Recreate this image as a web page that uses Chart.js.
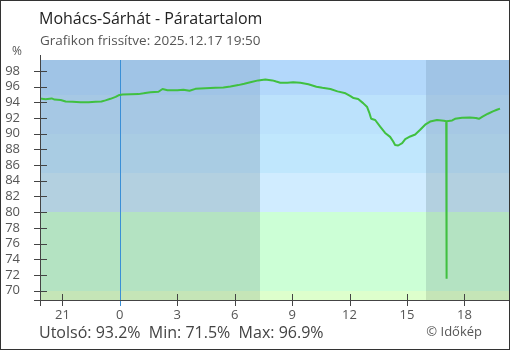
<!DOCTYPE html>
<html>
<head>
<meta charset="utf-8">
<script src="https://cdn.jsdelivr.net/npm/chart.js@4"></script>
<style>
  html, body { margin: 0; padding: 0; background: #fff; }
  #wrap { width: 510px; height: 350px; position: relative; }
</style>
</head>
<body>
<div id="wrap"><canvas id="humidityChart" width="510" height="350"></canvas></div>
<script>
// Órák az előző nap éjfélétől (negatív = előző nap)
const hours = [-4.17, -3.88, -3.56, -3.41, -3.09, -2.83, -2.47, -2.05, -1.63, -1.27, -0.96, -0.75, -0.49, -0.22, -0.07,
    0.14, 0.98, 1.24, 1.60, 2.02, 2.23, 2.49, 3.01, 3.32, 3.64, 3.95, 4.47, 4.99, 5.41, 5.78, 6.19, 6.50, 6.87,
    7.23, 7.60, 7.97, 8.17, 8.38, 8.75, 9.06, 9.43, 9.85, 10.27, 10.58, 11.00, 11.37, 11.79, 12.05, 12.21, 12.45,
    12.71, 12.92, 13.03, 13.13, 13.34, 13.60, 13.86, 14.12, 14.28, 14.38, 14.54, 14.75, 14.91, 15.17, 15.43, 15.69,
    15.95, 16.21, 16.57, 16.93, 17.05, 17.06, 17.07, 17.08, 17.36, 17.51, 17.88, 18.29, 18.60, 18.76, 18.97, 19.23,
    19.49, 19.70, 19.86];
const humidity = [94.5, 94.4, 94.5, 94.35, 94.3, 94.1, 94.08, 94.0, 94.0, 94.08, 94.1, 94.25, 94.45, 94.7, 94.9,
    95.0, 95.05, 95.15, 95.3, 95.35, 95.7, 95.55, 95.55, 95.62, 95.48, 95.72, 95.8, 95.87, 95.88, 96.03, 96.2, 96.38, 96.6,
    96.8, 96.9, 96.8, 96.65, 96.5, 96.5, 96.55, 96.5, 96.3, 96.0, 95.85, 95.7, 95.4, 95.15, 94.8, 94.55, 94.43,
    93.9, 93.4, 92.7, 91.9, 91.75, 90.9, 90.1, 89.6, 89.0, 88.55, 88.5, 88.8, 89.3, 89.65, 89.9, 90.5,
    91.15, 91.55, 91.75, 91.65, 91.6, 81.4, 71.5, 91.6, 91.7, 91.9, 92.05, 92.08, 92.0, 91.9, 92.2, 92.55,
    92.85, 93.05, 93.2];

const xMin = -4.17, xMax = 20.33;
const yMin = 68.8, yMax = 99.4;
const xTicks = [-3, 0, 3, 6, 9, 12, 15, 18];
const xTickLabels = ['21', '0', '3', '6', '9', '12', '15', '18'];
const yTicks = [70, 72, 74, 76, 78, 80, 82, 84, 86, 88, 90, 92, 94, 96, 98];

// Páratartalom sávok (felső / alsó határ) és színeik nappal / éjjel
const bandTops = [100, 95, 90, 85, 80, 70];
const bandBottoms = [95, 90, 85, 80, 70, 0];
const dayColors = ['#b3d8fb', '#bce2fc', '#c0e7fd', '#d0ecff', '#ccffd6', '#ddffcc'];
const nightColors = ['#a0c4e6', '#a6c8e4', '#a9cce3', '#b3d0e0', '#b4e3c2', '#c5e5b7'];
const sunrise = 7.33, sunset = 15.98;

const fontFamily = "'Open Sans', sans-serif";
Chart.defaults.font.family = fontFamily;

const last = humidity[humidity.length - 1];
const minVal = Math.min(...humidity);
const maxVal = Math.max(...humidity);

const backdrop = {
    id: 'backdrop',
    beforeDatasetsDraw(chart) {
        const { ctx, chartArea: a, scales: { x, y } } = chart;
        const spans = [[xMin, sunrise, true], [sunrise, sunset, false], [sunset, xMax, true]];
        ctx.save();
        ctx.beginPath();
        ctx.rect(a.left, a.top, a.right - a.left, a.bottom - a.top);
        ctx.clip();
        bandTops.forEach((top, i) => {
            const y1 = Math.round(y.getPixelForValue(top));
            const y2 = Math.round(y.getPixelForValue(bandBottoms[i]));
            spans.forEach(([from, to, night]) => {
                const x1 = Math.round(x.getPixelForValue(from));
                const x2 = Math.round(x.getPixelForValue(to));
                ctx.fillStyle = night ? nightColors[i] : dayColors[i];
                ctx.fillRect(x1, y1, x2 - x1, y2 - y1);
            });
        });
        ctx.restore();

        // éjfél jelölése
        const mx = Math.round(x.getPixelForValue(0)) + 0.5;
        ctx.save();
        ctx.strokeStyle = '#3a8fd6';
        ctx.lineWidth = 1;
        ctx.beginPath();
        ctx.moveTo(mx, a.top);
        ctx.lineTo(mx, a.bottom + 6);
        ctx.stroke();
        ctx.restore();
    },
    afterDraw(chart) {
        const { ctx, chartArea: a, scales: { x, y } } = chart;
        ctx.save();
        ctx.strokeStyle = '#444';
        ctx.lineWidth = 1;
        const ax = Math.floor(a.left) + 0.5;
        const ay = Math.floor(a.bottom) + 0.5;
        ctx.beginPath();
        // tengelyek
        ctx.moveTo(ax, a.top - 5);
        ctx.lineTo(ax, a.bottom + 6);
        ctx.moveTo(a.left - 6, ay);
        ctx.lineTo(a.right, ay);
        yTicks.forEach(v => {
            const py = Math.round(y.getPixelForValue(v)) + 0.5;
            ctx.moveTo(a.left - 6, py);
            ctx.lineTo(a.left + 7, py);
        });
        xTicks.forEach(v => {
            if (v === 0) return;
            const px = Math.round(x.getPixelForValue(v)) + 0.5;
            ctx.moveTo(px, a.bottom - 6);
            ctx.lineTo(px, a.bottom + 6);
        });
        ctx.stroke();

        // keret
        ctx.strokeStyle = '#333';
        ctx.strokeRect(0.5, 0.5, chart.width - 1, chart.height - 1);

        // feliratok
        ctx.textBaseline = 'alphabetic';
        ctx.textAlign = 'left';
        ctx.fillStyle = '#222';
        ctx.font = `16px ${fontFamily}`;
        ctx.fillText('Mohács-Sárhát - Páratartalom', 39, 24);
        ctx.fillStyle = '#555';
        ctx.font = `13.5px ${fontFamily}`;
        ctx.fillText('Grafikon frissítve: 2025.12.17 19:50', 40, 45);
        ctx.font = `12px ${fontFamily}`;
        ctx.fillText('%', 12, 55);
        ctx.fillStyle = '#444';
        ctx.font = `16px ${fontFamily}`;
        ctx.fillText(`Utolsó: ${last.toFixed(1)}%  Min: ${minVal.toFixed(1)}%  Max: ${maxVal.toFixed(1)}%`, 39, 338);
        ctx.fillStyle = '#555';
        ctx.font = `13px ${fontFamily}`;
        ctx.textAlign = 'right';
        ctx.fillText('© Időkép', 482, 336);
        ctx.restore();
    }
};

new Chart(document.getElementById('humidityChart'), {
    type: 'line',
    data: {
        datasets: [{
            data: hours.map((h, i) => ({ x: h, y: humidity[i] })),
            borderColor: '#40c040',
            borderWidth: 2,
            borderJoinStyle: 'bevel',
            pointRadius: 0,
            tension: 0
        }]
    },
    options: {
        responsive: false,
        animation: false,
        devicePixelRatio: 1,
        layout: { padding: { left: 0, top: 60, right: 1, bottom: 0 } },
        plugins: {
            legend: { display: false },
            tooltip: { enabled: false }
        },
        scales: {
            x: {
                type: 'linear',
                min: xMin,
                max: xMax,
                afterFit: s => { s.height = 50; },
                afterBuildTicks: s => { s.ticks = xTicks.map(v => ({ value: v })); },
                grid: { display: false, drawTicks: false },
                border: { display: false },
                ticks: {
                    autoSkip: false,
                    maxRotation: 0,
                    padding: 7,
                    color: '#555',
                    font: { size: 13 },
                    callback: v => xTickLabels[xTicks.indexOf(v)]
                }
            },
            y: {
                min: yMin,
                max: yMax,
                afterFit: s => { s.width = 40; },
                afterBuildTicks: s => { s.ticks = yTicks.map(v => ({ value: v })); },
                grid: { display: false, drawTicks: false },
                border: { display: false },
                ticks: {
                    autoSkip: false,
                    padding: 20,
                    color: '#555',
                    font: { size: 13 },
                    callback: v => String(v)
                }
            }
        }
    },
    plugins: [backdrop]
});
</script>
</body>
</html>
